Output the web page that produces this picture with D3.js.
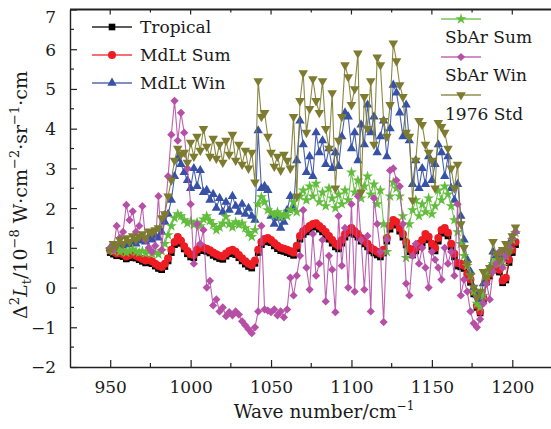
<!DOCTYPE html>
<html>
<head>
<meta charset="utf-8">
<script src="https://cdn.jsdelivr.net/npm/d3@7/dist/d3.min.js"></script>
<style>
  html, body { margin: 0; padding: 0; background: #fff; }
  svg { display: block; }
  text { font-family: "DejaVu Serif", "Liberation Serif", serif; fill: #1a1a1a; }
</style>
</head>
<body>
<svg id="chart" width="551" height="429"></svg>
<script>
// ---------------- DATA ----------------
const waveNumbers = d3.range(950, 1203, 2); // cm^-1, 950 ... 1202

const tropical = [
  0.88, 0.84, 0.80, 0.82, 0.78, 0.72, 0.75, 0.80, 0.74, 0.70,
  0.66, 0.62, 0.64, 0.60, 0.54, 0.48, 0.45, 0.53, 0.67, 0.88,
  1.08, 1.20, 1.11, 0.97, 0.85, 0.77, 0.75, 0.88, 0.98, 0.93,
  0.91, 0.87, 0.81, 0.77, 0.73, 0.71, 0.79, 0.85, 0.88, 0.83,
  0.75, 0.67, 0.59, 0.53, 0.49, 0.61, 0.88, 1.08, 1.15, 1.18,
  1.13, 1.05, 0.98, 0.93, 0.91, 0.88, 0.85, 0.81, 0.98, 1.22,
  1.34, 1.40, 1.47, 1.52, 1.54, 1.47, 1.40, 1.32, 1.22, 1.12,
  1.02, 0.97, 1.12, 1.27, 1.37, 1.42, 1.34, 1.27, 1.17, 1.10,
  1.02, 0.92, 0.87, 0.82, 0.77, 0.87, 1.17, 1.47, 1.62, 1.57,
  1.42, 1.27, 1.07, 0.90, 0.82, 0.92, 1.02, 1.12, 1.27, 1.20,
  1.02, 0.92, 1.17, 1.37, 1.42, 1.30, 1.02, 0.77, 0.54, 0.52,
  0.48, 0.28, 0.13, -0.16, -0.50, -0.64, -0.30, 0.14, 0.29, 0.44,
  0.54, 0.39, 0.12, 0.19, 0.63, 0.88, 1.08
];
const mdltSum = [
  0.93, 0.90, 0.86, 0.88, 0.84, 0.78, 0.82, 0.86, 0.80, 0.76,
  0.72, 0.68, 0.70, 0.66, 0.60, 0.55, 0.52, 0.60, 0.74, 0.95,
  1.15, 1.27, 1.18, 1.04, 0.92, 0.84, 0.82, 0.95, 1.05, 1.00,
  0.98, 0.94, 0.88, 0.84, 0.80, 0.78, 0.86, 0.92, 0.95, 0.90,
  0.82, 0.74, 0.66, 0.60, 0.56, 0.68, 0.95, 1.15, 1.22, 1.25,
  1.20, 1.12, 1.05, 1.00, 0.98, 0.95, 0.92, 0.88, 1.05, 1.30,
  1.42, 1.48, 1.55, 1.60, 1.62, 1.55, 1.48, 1.40, 1.30, 1.20,
  1.10, 1.05, 1.20, 1.35, 1.45, 1.50, 1.42, 1.35, 1.25, 1.18,
  1.10, 1.00, 0.95, 0.90, 0.85, 0.95, 1.25, 1.55, 1.70, 1.65,
  1.50, 1.35, 1.15, 0.98, 0.90, 1.00, 1.10, 1.20, 1.35, 1.28,
  1.10, 1.00, 1.25, 1.45, 1.50, 1.38, 1.10, 0.85, 0.62, 0.60,
  0.55, 0.35, 0.20, -0.10, -0.45, -0.60, -0.25, 0.20, 0.35, 0.50,
  0.60, 0.45, 0.18, 0.25, 0.70, 0.95, 1.15
];
const mdltWin = [
  1.00, 1.05, 1.02, 1.10, 1.05, 1.12, 1.08, 1.15, 1.10, 1.18,
  1.22, 1.15, 1.28, 1.20, 1.30, 1.25, 1.40, 1.65, 1.85, 2.20,
  2.80, 3.25, 3.10, 2.90, 2.70, 2.50, 3.00, 2.55, 2.95, 2.40,
  2.45, 2.20, 2.35, 2.00, 2.25, 1.90, 2.15, 1.95, 2.30, 2.05,
  1.90, 2.10, 1.85, 2.00, 1.80, 1.70, 3.95, 2.50, 2.55, 2.45,
  1.80, 1.60, 1.75, 1.50, 1.65, 1.95, 2.30, 2.00, 3.20, 4.20,
  3.60, 2.90, 3.30, 2.80, 3.90, 3.40, 3.70, 3.10, 3.50, 3.00,
  3.40, 3.05, 3.80, 4.40, 4.30, 3.50, 3.90, 3.20, 4.10, 3.60,
  4.60, 3.90, 4.30, 3.40, 3.80, 4.20, 3.30, 4.00, 5.10, 4.90,
  4.40, 3.80, 4.60, 3.70, 2.60, 3.20, 2.50, 3.00, 2.60, 3.30,
  2.70, 3.10, 3.60, 3.40, 2.80, 3.30, 2.50, 2.20, 2.60, 1.80,
  1.20, 0.70, 0.40, 0.00, -0.20, -0.35, 0.10, 0.35, 0.50, 0.90,
  0.80, 0.70, 0.75, 0.95, 1.10, 1.25, 1.42
];
const sbarSum = [
  0.95, 0.92, 0.98, 0.90, 0.94, 0.88, 0.92, 0.96, 0.90, 0.88,
  0.92, 0.86, 0.90, 0.85, 0.88, 0.84, 0.92, 1.10, 1.32, 1.55,
  1.75, 1.85, 1.80, 1.70, 1.62, 1.66, 1.58, 1.64, 1.55, 1.72,
  1.80, 1.68, 1.58, 1.45, 1.52, 1.62, 1.78, 1.60, 1.52, 1.65,
  1.58, 1.62, 1.50, 1.38, 1.28, 1.45, 2.10, 2.28, 2.15, 1.95,
  1.88, 1.82, 1.90, 1.78, 1.85, 1.80, 1.95, 2.15, 1.90, 2.30,
  2.45, 2.20, 2.55, 2.30, 2.62, 2.15, 2.40, 2.05, 2.50, 2.25,
  2.00, 2.35, 2.10, 2.45, 2.20, 2.90, 2.40, 2.70, 2.25, 2.55,
  2.80, 2.35, 2.60, 2.10, 2.45, 1.60, 0.90, 2.30, 2.65, 2.50,
  2.30, 1.80, 0.75, 1.60, 1.95, 2.20, 1.80, 2.10, 1.90, 2.25,
  1.85, 2.05, 2.45, 2.20, 2.55, 2.35, 2.05, 1.70, 1.40, 1.10,
  0.80, 0.55, 0.30, -0.10, -0.40, -0.50, -0.20, 0.30, 0.45, 0.60,
  0.70, 0.60, 0.55, 0.80, 0.95, 1.20, 1.38
];
const sbarWin = [
  1.00, 0.95, 1.55, 1.25, 1.40, 2.08, 1.70, 1.92, 1.40, 1.55,
  2.05, 1.20, 1.00, 0.90, 1.05, 2.30, 0.95, 1.85, 2.80, 3.85,
  4.70, 3.70, 4.40, 3.90, 3.00, 2.10, 0.60, 1.60, 1.10, 1.45,
  0.00, 0.17, -0.45, -0.30, -0.60, -0.50, -0.72, -0.62, -0.70, -0.60,
  -0.68, -0.85, -0.95, -1.05, -1.15, -1.00, -0.60, 1.55, -0.55, -0.58,
  -0.62, -0.55, -0.70, -0.60, -0.75, -0.55, 0.25, -0.20, 0.30, 0.80,
  1.95, 0.50, -0.05, 1.35, 0.30, 0.60, 1.20, -0.35, 0.80, 0.45,
  -0.62, 1.80, 0.55, 1.50, 0.00, 2.10, -0.10, 2.30, 1.20, -0.05,
  1.30, -0.60, 2.25, 1.60, 0.90, -0.87, 1.20, 2.95, 3.00, 2.70,
  2.55, 1.60, 0.10, -0.20, 0.80, 1.10, 0.60, 1.00, 0.50, 0.00,
  0.90, 0.70, 0.50, 0.20, 1.00, 0.60, 0.90, 0.30, 2.10, -0.20,
  0.20, -0.10, -0.60, -0.90, -1.00, -0.80, -0.40, 0.10, -0.30, 0.40,
  0.60, 0.90, 0.50, 0.80, 1.00, 1.25, 1.40
];
const std1976 = [
  0.95, 1.10, 1.05, 1.20, 1.10, 1.25, 1.15, 1.30, 1.20, 1.28,
  1.35, 1.25, 1.42, 1.38, 1.45, 1.50, 1.75, 1.85, 2.30, 2.70,
  3.20, 3.50, 3.35, 3.40, 3.15, 3.65, 3.30, 3.80, 3.45, 4.00,
  3.55, 3.30, 3.75, 3.25, 3.60, 3.15, 3.70, 3.35, 3.85, 3.20,
  3.60, 3.10, 3.45, 3.00, 3.40, 2.65, 5.20, 4.30, 4.40, 3.80,
  3.40, 3.05, 3.30, 2.95, 3.35, 3.20, 3.00, 4.30, 2.30, 4.70,
  5.40, 3.90, 4.50, 5.25, 4.70, 4.40, 5.20, 4.00, 3.50, 4.90,
  2.50, 3.70, 4.30, 5.60, 5.30, 4.60, 5.00, 5.90, 2.40, 4.80,
  4.00, 5.20, 3.60, 5.80, 5.60, 4.20, 3.80, 4.60, 6.15, 5.70,
  5.10, 4.80, 3.90, 3.80, 2.20, 3.20, 4.20, 4.10, 3.60, 3.40,
  3.20, 2.50, 4.15, 4.05, 3.90, 3.50, 3.00, 2.50, 3.10, 1.60,
  1.00, 0.60, 0.30, 0.00, -0.25, -0.10, 0.40, 0.25, 0.50, 1.15,
  0.85, 0.70, 0.95, 1.10, 0.90, 1.30, 1.52
];

const seriesNames = ["Tropical", "MdLt Sum", "MdLt Win", "SbAr Sum", "SbAr Win", "1976 Std"];
const seriesValues = [tropical, mdltSum, mdltWin, sbarSum, sbarWin, std1976];
const seriesColors = ["#000000", "#ee1d23", "#3651a6", "#62bd3c", "#b64fa6", "#7d7b2f"];
const seriesMarkers = ["square", "circle", "triangleUp", "star", "diamond", "triangleDown"];

const xTicks = [950, 1000, 1050, 1100, 1150, 1200];
const yTicks = [-2, -1, 0, 1, 2, 3, 4, 5, 6, 7];

// ---------------- DRAW ----------------
const svg = d3.select("#chart");
const W = 551, H = 429;
const plot = { left: 70, right: 552.5, top: 9.5, bottom: 367 };

const x = d3.scaleLinear().domain([925, 1225]).range([plot.left, plot.right]);
const y = d3.scaleLinear().domain([-2, 7]).range([plot.bottom, plot.top]);

svg.append("defs").append("clipPath").attr("id", "clip")
  .append("rect").attr("x", plot.left).attr("y", plot.top)
  .attr("width", plot.right - plot.left).attr("height", plot.bottom - plot.top);

const symbolFor = {
  square: { type: d3.symbolSquare, size: 44, rot: 0 },
  circle: { type: d3.symbolCircle, size: 50, rot: 0 },
  triangleUp: { type: d3.symbolTriangle, size: 38, rot: 0 },
  star: { type: d3.symbolStar, size: 38, rot: 0 },
  diamond: { type: d3.symbolSquare, size: 34, rot: 45 },
  triangleDown: { type: d3.symbolTriangle, size: 40, rot: 180 }
};

const dataG = svg.append("g").attr("clip-path", "url(#clip)");
const line = d3.line().x(d => x(d[0])).y(d => y(d[1]));

seriesValues.forEach((vals, i) => {
  const pts = waveNumbers.map((w, j) => [w, vals[j]]);
  const g = dataG.append("g");
  g.append("path").datum(pts).attr("d", line)
    .attr("fill", "none").attr("stroke", seriesColors[i]).attr("stroke-width", 1.1)
    .attr("stroke-opacity", 0.9);
  const sym = symbolFor[seriesMarkers[i]];
  g.selectAll("path.m").data(pts).enter().append("path").attr("class", "m")
    .attr("d", d3.symbol().type(sym.type).size(sym.size)())
    .attr("transform", d => `translate(${x(d[0])},${y(d[1])}) rotate(${sym.rot})`)
    .attr("fill", seriesColors[i]);
});

// axes
const axisColor = "#222";
const xMinor = d3.range(950, 1226, 25).filter(v => !xTicks.includes(v));
const yMinor = d3.range(-1.5, 7, 1);

const bottomAxis = d3.axisBottom(x).tickValues(xTicks).tickSizeInner(-7).tickSizeOuter(0).tickPadding(14).tickFormat(d3.format("d"));
const gx = svg.append("g").attr("transform", `translate(0,${plot.bottom})`).call(bottomAxis);
gx.select(".domain").attr("stroke", axisColor).attr("stroke-width", 1.4);
gx.selectAll(".tick line").attr("stroke", axisColor).attr("stroke-width", 1.2);
gx.selectAll(".tick text").attr("font-size", 17).attr("fill", "#1a1a1a").attr("font-family", "DejaVu Serif");
gx.selectAll(".minor").data(xMinor).enter().append("line")
  .attr("x1", d => x(d)).attr("x2", d => x(d)).attr("y1", 0).attr("y2", -4)
  .attr("stroke", axisColor).attr("stroke-width", 1.2);

const leftAxis = d3.axisLeft(y).tickValues(yTicks).tickSizeInner(-7).tickSizeOuter(0).tickPadding(14)
  .tickFormat(d => d < 0 ? "\u2212" + Math.abs(d) : String(d));
const gy = svg.append("g").attr("transform", `translate(${plot.left},0)`).call(leftAxis);
gy.select(".domain").attr("stroke", axisColor).attr("stroke-width", 1.4);
gy.selectAll(".tick line").attr("stroke", axisColor).attr("stroke-width", 1.2);
gy.selectAll(".tick text").attr("font-size", 17).attr("fill", "#1a1a1a").attr("font-family", "DejaVu Serif")
  .attr("dy", d => d === 7 ? "0.75em" : "0.35em");
gy.selectAll(".minor").data(yMinor).enter().append("line")
  .attr("x1", 0).attr("x2", 4).attr("y1", d => y(d)).attr("y2", d => y(d))
  .attr("stroke", axisColor).attr("stroke-width", 1.2);

// top border with ticks
const gt = svg.append("g");
gt.append("line").attr("x1", plot.left).attr("x2", W + 5).attr("y1", plot.top).attr("y2", plot.top)
  .attr("stroke", axisColor).attr("stroke-width", 2);
gt.selectAll(".tt").data(d3.range(950, 1226, 25)).enter().append("line")
  .attr("x1", d => x(d)).attr("x2", d => x(d)).attr("y1", plot.top).attr("y2", d => plot.top + (xTicks.includes(d) ? 5 : 3))
  .attr("stroke", axisColor).attr("stroke-width", 1.2);

// axis titles
const xt = svg.append("text").attr("x", 324).attr("y", 418).attr("text-anchor", "middle").attr("font-size", 18.5);
xt.append("tspan").text("Wave number/cm");
xt.append("tspan").attr("dy", -8).attr("font-size", 12).text("\u22121");

const yt = svg.append("text").attr("transform", "translate(27,195) rotate(-90)").attr("text-anchor", "middle").attr("font-size", 19);
yt.append("tspan").text("\u0394");
yt.append("tspan").attr("dy", -8).attr("font-size", 13).text("2");
yt.append("tspan").attr("dy", 8).attr("font-style", "italic").text("L");
yt.append("tspan").attr("dy", 4).attr("font-size", 13).text("t");
yt.append("tspan").attr("dy", -4).text("/10");
yt.append("tspan").attr("dy", -8).attr("font-size", 13).text("\u22128");
yt.append("tspan").attr("dy", 8).text(" W\u00b7cm");
yt.append("tspan").attr("dy", -8).attr("font-size", 13).text("\u22122");
yt.append("tspan").attr("dy", 8).text("\u00b7sr");
yt.append("tspan").attr("dy", -8).attr("font-size", 13).text("\u22121");
yt.append("tspan").attr("dy", 8).text("\u00b7cm");

// legend
function legendSample(g, i, cx, cy) {
  g.append("line").attr("x1", cx - 20).attr("x2", cx + 20).attr("y1", cy).attr("y2", cy)
    .attr("stroke", seriesColors[i]).attr("stroke-width", 1.3).attr("stroke-opacity", 0.85);
  const sym = symbolFor[seriesMarkers[i]];
  g.append("path").attr("d", d3.symbol().type(sym.type).size(sym.size)())
    .attr("transform", `translate(${cx},${cy}) rotate(${sym.rot})`).attr("fill", seriesColors[i]);
}
const lg = svg.append("g");
const leftRows = [27, 55, 83];
[0, 1, 2].forEach((i, k) => {
  legendSample(lg, i, 112, leftRows[k]);
  lg.append("text").attr("x", 140).attr("y", leftRows[k]).attr("dy", "0.35em").attr("font-size", 17).text(seriesNames[i]);
});
const rightLines = [19, 57, 95];
const rightTexts = [37, 75, 114];
[3, 4, 5].forEach((i, k) => {
  legendSample(lg, i, 461, rightLines[k]);
  lg.append("text").attr("x", 445).attr("y", rightTexts[k]).attr("dy", "0.35em").attr("font-size", 17).text(seriesNames[i]);
});
</script>
</body>
</html>
